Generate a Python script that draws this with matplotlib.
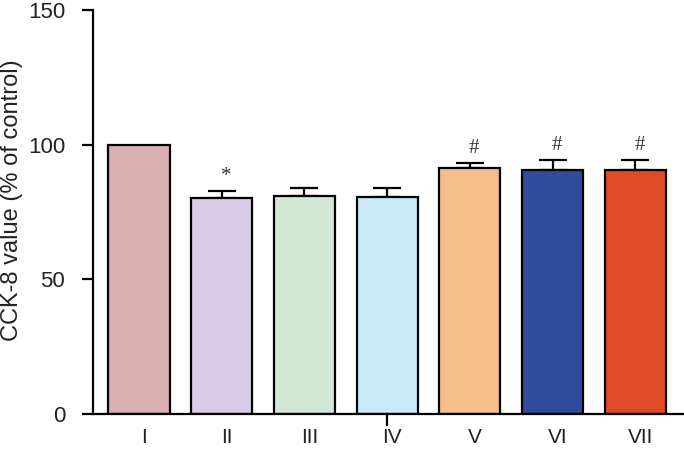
import matplotlib.pyplot as plt
import matplotlib.transforms as mtransforms
import numpy as np

plt.rcParams['font.family'] = ['Liberation Sans', 'DejaVu Sans']

# group labels, means (% of control) and upper SD
groups = ["I", "II", "III", "IV", "V", "VI", "VII"]
means = [100, 80.2, 81.0, 80.6, 91.3, 90.6, 90.6]
errs = [0, 2.6, 3.0, 3.4, 1.9, 3.7, 3.7]
marks = ["", "*", "", "", "#", "#", "#"]
colors = ["#d9b0b1", "#d8cce6", "#d3e8d4", "#c9e8f8", "#f5bf8c", "#324c9d", "#e04a27"]

fig = plt.figure(figsize=(6.84, 4.49), dpi=100)
ax = fig.add_axes([0.136, 0.078, 0.864, 0.9])

x = np.arange(len(groups))
ax.bar(x, means, width=0.74, color=colors, edgecolor="black", linewidth=1.6, zorder=2)

# only the upper half of the error bars is drawn
ax.errorbar(x[1:], means[1:], yerr=[np.zeros(len(x) - 1), errs[1:]], fmt="none",
            ecolor="black", elinewidth=1.6, capsize=10, capthick=1.6, zorder=1)

for xi, m, e, s in zip(x, means, errs, marks):
    if s:
        ax.text(xi + 0.05, m + e + 2.0, s, ha="center", va="bottom",
                fontsize=15, family="Liberation Serif", color="#333333")

ax.set_xlim(-0.556, 6.59)
ax.set_ylim(0, 150)
ax.set_yticks([0, 50, 100, 150])
ax.set_ylabel("CCK-8 value (% of control)", fontsize=17, color="#222222")
ax.yaxis.set_label_coords(-0.119, 0.53)

ax.set_xticks(x)
ax.set_xticklabels(groups, fontsize=15, color="#222222")
ax.tick_params(axis="x", length=0, pad=10)
ax.tick_params(axis="y", length=8, width=1.6, labelsize=16, labelcolor="#222222",
               direction="out", pad=12)

# labels in the original sit a few pixels right of the bar centres
shift = mtransforms.ScaledTranslation(5 / 100, 0, fig.dpi_scale_trans)
for lab in ax.get_xticklabels():
    lab.set_transform(lab.get_transform() + shift)

# the one little tick that sits below the axis near IV
ax.plot([3, 3], [0, -4], color="black", lw=1.6, clip_on=False)

for side in ["top", "right"]:
    ax.spines[side].set_visible(False)
for side in ["left", "bottom"]:
    ax.spines[side].set_linewidth(1.6)

plt.savefig("out.png", dpi=100)
